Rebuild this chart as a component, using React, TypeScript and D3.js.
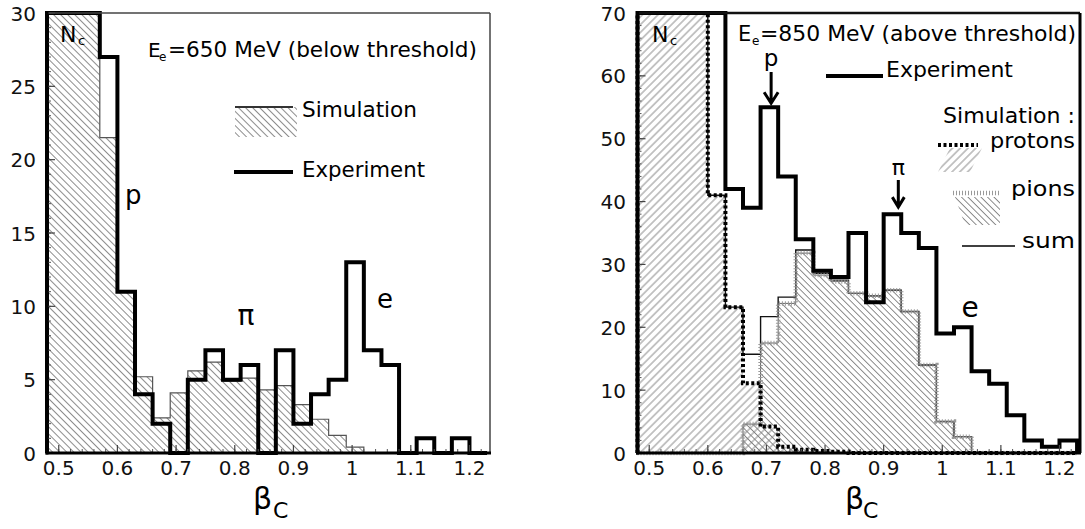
import React from 'react';
import * as d3 from 'd3';

// ---------- data ----------
const BIN_START = 0.48;
const BIN_WIDTH = 0.03;
const X_DOMAIN: [number, number] = [0.48, 1.235];
const X_TICKS = [0.5, 0.6, 0.7, 0.8, 0.9, 1.0, 1.1, 1.2];
const X_TICK_LABELS = ['0.5', '0.6', '0.7', '0.8', '0.9', '1', '1.1', '1.2'];

// Left panel: E_e = 650 MeV (values above 30 are off scale)
const expLeft = [45, 40, 35, 27, 11, 4, 2, 0, 5, 7, 5, 6, 0, 7, 2, 4, 5, 13, 7, 6, 0, 1, 0, 1, 0];
const simLeft = [45, 42, 38, 21.5, 11, 5.2, 2.4, 4.1, 5.6, 6.2, 4.9, 5.1, 4.3, 4.6, 3.3, 2.3, 1.2, 0.4, 0, 0, 0, 0, 0, 0, 0];
const Y_TICKS_LEFT = [0, 5, 10, 15, 20, 25, 30];

// Right panel: E_e = 850 MeV (values above 70 are off scale)
const expRight = [120, 110, 100, 90, 80, 42, 39, 55, 44, 34, 29, 28, 35, 24, 38, 35, 32.6, 19, 20, 13, 11, 6, 2, 1, 2];
const protonsRight = [120, 110, 100, 85, 41, 23.2, 11.1, 4.2, 1.0, 0.5, 0.3, 0.2, 0, 0, 0, 0, 0, 0, 0, 0, 0, 0, 0, 0, 0];
const pionsRight = [0, 0, 0, 0, 0, 0, 4.6, 17.5, 23.8, 31.8, 28.3, 27.3, 25.4, 25.0, 25.9, 22.5, 14.0, 5.0, 2.6, 0, 0, 0, 0, 0, 0];
const sumRight = protonsRight.map((p, i) => p + pionsRight[i]);
const Y_TICKS_RIGHT = [0, 10, 20, 30, 40, 50, 60, 70];

const FONT = 'DejaVu Sans, Verdana, sans-serif';

function stepPath(values: number[], x: d3.ScaleLinear<number, number>, y: d3.ScaleLinear<number, number>, close = false) {
  let d = `M${x(BIN_START)},${y(0)}`;
  values.forEach((v, i) => {
    const a = x(BIN_START + i * BIN_WIDTH);
    const b = x(BIN_START + (i + 1) * BIN_WIDTH);
    d += `L${a},${y(v)}L${b},${y(v)}`;
  });
  d += `L${x(BIN_START + values.length * BIN_WIDTH)},${y(0)}`;
  if (close) d += 'Z';
  return d;
}

function Axes({ x, y, yTicks, yMinorStep, labelX, frame }: any) {
  const [x0, x1] = x.range();
  const [yb, yt] = y.range();
  const minorX = d3.range(0.48, 1.2301, 0.02);
  const yMax = y.domain()[1];
  const minorY = d3.range(0, yMax + 0.001, yMinorStep);
  return (
    <g>
      {minorX.map((v: number, i: number) => (
        <line key={'mx' + i} x1={x(v)} x2={x(v)} y1={yb} y2={yb - 4} stroke="#555" strokeWidth={1} />
      ))}
      {X_TICKS.map((v, i) => (
        <line key={'Mx' + i} x1={x(v)} x2={x(v)} y1={yb} y2={yb - 8} stroke="#444" strokeWidth={1.2} />
      ))}
      {minorY.map((v: number, i: number) => (
        <line key={'my' + i} x1={x0} x2={x0 + 4} y1={y(v)} y2={y(v)} stroke="#555" strokeWidth={1} />
      ))}
      {yTicks.map((v: number, i: number) => (
        <line key={'My' + i} x1={x0} x2={x0 + 8} y1={y(v)} y2={y(v)} stroke="#444" strokeWidth={1.2} />
      ))}
      {/* frame */}
      <line x1={x0} x2={x1} y1={yt} y2={yt} stroke={frame.topColor} strokeWidth={frame.top} />
      <line x1={x1} x2={x1} y1={yt} y2={yb} stroke={frame.rightColor} strokeWidth={frame.right} />
      <line x1={x0} x2={x0} y1={yt - 1} y2={yb + 1.5} stroke="#000" strokeWidth={3} />
      <line x1={x0 - 1.5} x2={x1 + 1} y1={yb} y2={yb} stroke="#000" strokeWidth={3} />
      {/* tick labels */}
      {X_TICKS.map((v, i) => (
        <text key={'xl' + i} x={x(v)} y={475} fontSize={20} textAnchor="middle" fontFamily={FONT} fill="#111">
          {X_TICK_LABELS[i]}
        </text>
      ))}
      {yTicks.map((v: number, i: number) => (
        <text key={'yl' + i} x={labelX} y={y(v) + 7.5} fontSize={20} textAnchor="end" fontFamily={FONT} fill="#111">
          {String(v)}
        </text>
      ))}
    </g>
  );
}

export default function App() {
  const xL = d3.scaleLinear().domain(X_DOMAIN).range([47, 490]);
  const yL = d3.scaleLinear().domain([0, 30]).range([453, 13]).clamp(true);
  const xR = d3.scaleLinear().domain(X_DOMAIN).range([637.5, 1080]);
  const yR = d3.scaleLinear().domain([0, 70]).range([453, 13]).clamp(true);

  return (
    <svg width={1085} height={529} style={{ position: 'absolute', left: 0, top: 0, background: '#fff' }} fontFamily={FONT}>
      <defs>
        <pattern id="hatchBack" patternUnits="userSpaceOnUse" width={5} height={5} patternTransform="rotate(-45)">
          <line x1={2.5} y1={0} x2={2.5} y2={5} stroke="#808080" strokeWidth={0.9} />
        </pattern>
        <pattern id="hatchFwd" patternUnits="userSpaceOnUse" width={5.5} height={5.5} patternTransform="rotate(45)">
          <line x1={2.75} y1={0} x2={2.75} y2={5.5} stroke="#808080" strokeWidth={0.9} />
        </pattern>
        <pattern id="hatchPion" patternUnits="userSpaceOnUse" width={4.6} height={4.6} patternTransform="rotate(-45)">
          <line x1={2.3} y1={0} x2={2.3} y2={4.6} stroke="#808080" strokeWidth={0.9} />
        </pattern>
      </defs>
      <rect x={0} y={0} width={1085} height={529} fill="#fff" />

      {/* ================= LEFT PANEL ================= */}
      <g>
        <path d={stepPath(simLeft, xL, yL, true)} fill="url(#hatchBack)" stroke="none" />
        <path d={stepPath(simLeft, xL, yL)} fill="none" stroke="#555" strokeWidth={1.2} />
        <path d={stepPath(expLeft, xL, yL)} fill="none" stroke="#000" strokeWidth={4} strokeLinejoin="miter" />
        <Axes x={xL} y={yL} yTicks={Y_TICKS_LEFT} yMinorStep={1} labelX={36}
          frame={{ top: 1.5, topColor: '#444', right: 1.5, rightColor: '#444' }} />

        <text x={60} y={42} fontSize={22}>N</text>
        <text x={78} y={45} fontSize={13}>c</text>

        <text x={148} y={57} fontSize={20}>E</text>
        <text x={159} y={61} fontSize={12}>e</text>
        <text x={168} y={57} fontSize={21} textLength={309} lengthAdjust="spacingAndGlyphs">=650 MeV (below threshold)</text>

        <rect x={235} y={107} width={62} height={30} fill="url(#hatchBack)" />
        <line x1={235} x2={293} y1={107} y2={107} stroke="#333" strokeWidth={2} />
        <text x={302} y={117} fontSize={22} textLength={115} lengthAdjust="spacingAndGlyphs">Simulation</text>
        <line x1={234} x2={293} y1={172} y2={172} stroke="#000" strokeWidth={4} />
        <text x={302} y={177} fontSize={22} textLength={123} lengthAdjust="spacingAndGlyphs">Experiment</text>

        <text x={125} y={204} fontSize={26}>p</text>
        <text x={246} y={325} fontSize={28} textAnchor="middle">π</text>
        <text x={385} y={308} fontSize={26} textAnchor="middle">e</text>

        <text x={253} y={509} fontSize={30}>β</text>
        <text x={273} y={518} fontSize={22}>C</text>
      </g>

      {/* ================= RIGHT PANEL ================= */}
      <g>
        <path d={stepPath(protonsRight, xR, yR, true)} fill="url(#hatchFwd)" stroke="none" />
        <path d={stepPath(pionsRight, xR, yR, true)} fill="url(#hatchPion)" stroke="none" />
        <path d={stepPath(sumRight, xR, yR)} fill="none" stroke="#111" strokeWidth={1.4} />
        <path d={stepPath(pionsRight, xR, yR)} fill="none" stroke="#666" strokeWidth={1} />
        <path d={stepPath(pionsRight, xR, yR)} fill="none" stroke="#999" strokeWidth={4.5} strokeDasharray="1 2" />
        <path d={stepPath(protonsRight, xR, yR)} fill="none" stroke="#000" strokeWidth={4} strokeDasharray="3 2.5" />
        <path d={stepPath(expRight, xR, yR)} fill="none" stroke="#000" strokeWidth={4} strokeLinejoin="miter" />
        <Axes x={xR} y={yR} yTicks={Y_TICKS_RIGHT} yMinorStep={2} labelX={626}
          frame={{ top: 2.5, topColor: '#111', right: 3, rightColor: '#000' }} />

        <text x={652} y={42} fontSize={22}>N</text>
        <text x={670} y={45} fontSize={13}>c</text>

        <text x={738} y={41} fontSize={21}>E</text>
        <text x={752} y={45} fontSize={12}>e</text>
        <text x={760} y={41} fontSize={21} textLength={316} lengthAdjust="spacingAndGlyphs">=850 MeV (above threshold)</text>

        <line x1={826} x2={883} y1={76} y2={76} stroke="#000" strokeWidth={4} />
        <text x={886} y={77} fontSize={22} textLength={127} lengthAdjust="spacingAndGlyphs">Experiment</text>

        <text x={943} y={123} fontSize={22} textLength={132} lengthAdjust="spacingAndGlyphs">Simulation :</text>

        <line x1={938} x2={978} y1={145} y2={145} stroke="#000" strokeWidth={4} strokeDasharray="3 2.5" />
        <path d="M938,172 L950,148 L982,148 L970,172 Z" fill="url(#hatchFwd)" />
        <text x={990} y={148} fontSize={22} textLength={85} lengthAdjust="spacingAndGlyphs">protons</text>

        <line x1={953} x2={1000} y1={193} y2={193} stroke="#999" strokeWidth={4.5} strokeDasharray="1 2" />
        <path d="M955,197 L1000,197 L1000,225 L965,225 Z" fill="url(#hatchPion)" />
        <text x={1011} y={196} fontSize={22} textLength={64} lengthAdjust="spacingAndGlyphs">pions</text>

        <line x1={962} x2={1015} y1={246} y2={246} stroke="#000" strokeWidth={1.5} />
        <text x={1022} y={248} fontSize={22} textLength={53} lengthAdjust="spacingAndGlyphs">sum</text>

        {/* peak annotations */}
        <text x={xR(0.708)} y={66} fontSize={23} textAnchor="middle">p</text>
        <path d={`M${xR(0.708)},72 V${yR(55) - 4} M${xR(0.708) - 7},${yR(55) - 15} L${xR(0.708)},${yR(55) - 4} L${xR(0.708) + 7},${yR(55) - 15}`}
          fill="none" stroke="#000" strokeWidth={3} />
        <text x={xR(0.925)} y={175} fontSize={22} textAnchor="middle">π</text>
        <path d={`M${xR(0.925)},180 V${yR(38) - 7} M${xR(0.925) - 6},${yR(38) - 17} L${xR(0.925)},${yR(38) - 7} L${xR(0.925) + 6},${yR(38) - 17}`}
          fill="none" stroke="#000" strokeWidth={3} />
        <text x={970} y={317} fontSize={28} textAnchor="middle">e</text>

        <text x={845} y={509} fontSize={30}>β</text>
        <text x={863} y={518} fontSize={22}>C</text>
      </g>
    </svg>
  );
}
